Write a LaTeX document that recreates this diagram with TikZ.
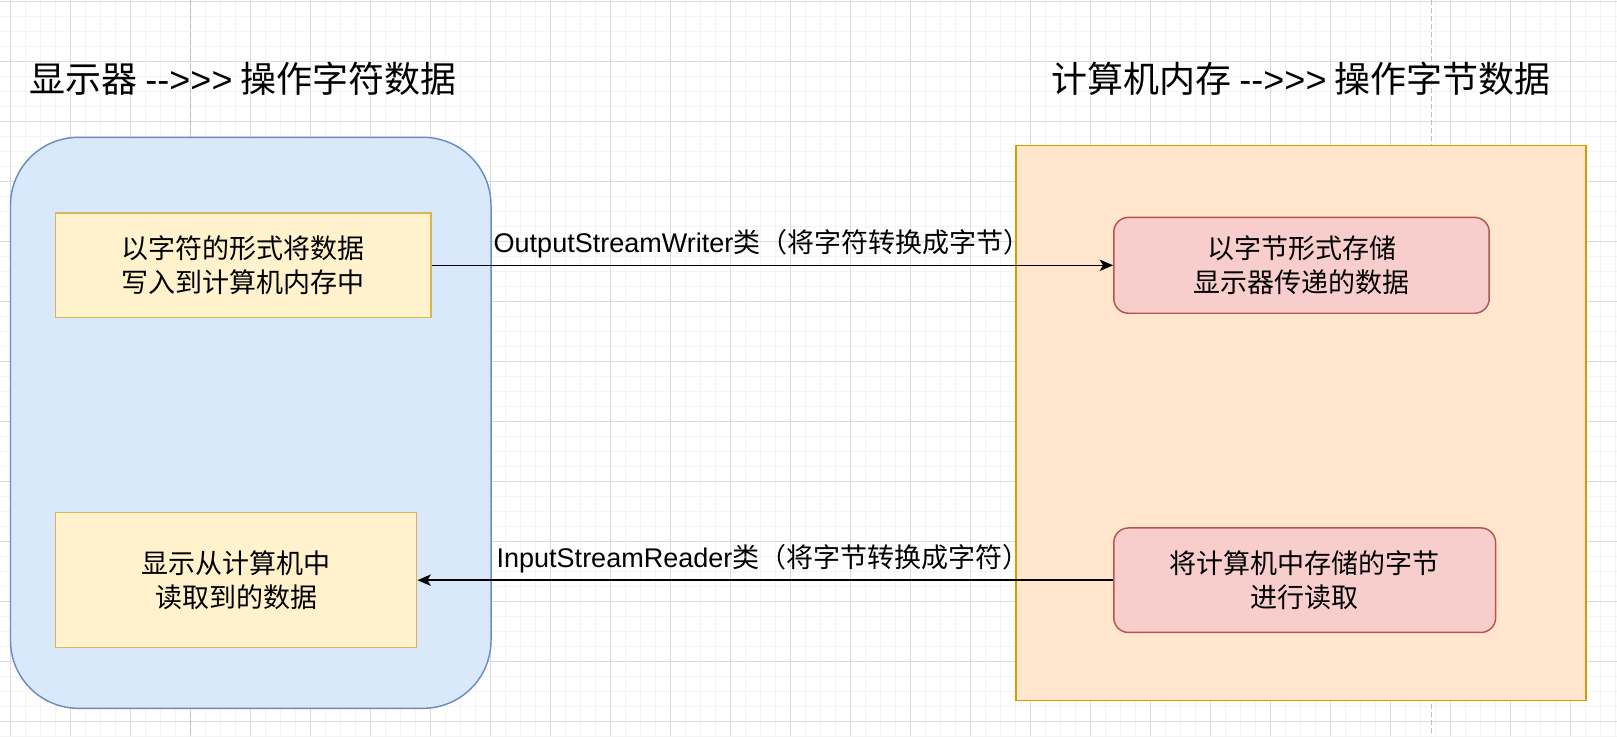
\documentclass[tikz,border=0pt]{standalone}
\usepackage{fontspec}
\setmainfont{Noto Sans CJK SC}
\newfontfamily\latinfont{Liberation Sans}
\usetikzlibrary{arrows.meta}

\definecolor{gridminor}{HTML}{F4F4F4}
\definecolor{gridmajor}{HTML}{DBDBDB}
\definecolor{pageline}{HTML}{BDBDBD}
\definecolor{bluefill}{HTML}{DAE8FC}
\definecolor{bluedraw}{HTML}{6C8EBF}
\definecolor{yellowfill}{HTML}{FFF2CC}
\definecolor{yellowdraw}{HTML}{D6B656}
\definecolor{orangefill}{HTML}{FFE6CC}
\definecolor{orangedraw}{HTML}{D79B00}
\definecolor{redfill}{HTML}{F8CECC}
\definecolor{reddraw}{HTML}{B85450}

\begin{document}
\begin{tikzpicture}[x=0.75pt,y=-0.75pt,
  boxtext/.style={font=\fontsize{20.25}{25.5}\selectfont,align=center,inner sep=0pt,line width=1.1pt},
  container/.style={boxtext,fill=bluefill,draw=bluedraw,rounded corners=51pt},
  memory/.style={boxtext,fill=orangefill,draw=orangedraw},
  charbox/.style={boxtext,fill=yellowfill,draw=yellowdraw},
  bytebox/.style={boxtext,fill=redfill,draw=reddraw,rounded corners=11pt},
  heading/.style={font=\fontsize{27}{32}\selectfont,inner sep=0pt},
  flowlabel/.style={font=\fontsize{20.25}{25.5}\selectfont,inner sep=0pt},
  flow/.style={line width=1.2pt,-{Stealth[length=10pt,width=8.5pt,inset=2.5pt]}}]
  \useasboundingbox (0,0) rectangle (1617,736);
  \fill[white] (0,0) rectangle (1617,736);
  % background grid of the canvas
  \begin{scope}
    \clip (0,0) rectangle (1617,736);
    \foreach \x in {10,25,...,1615} \draw[gridminor,line width=0.75pt] (\x,0) -- (\x,736);
    \foreach \y in {1,16,...,736} \draw[gridminor,line width=0.75pt] (0,\y) -- (1617,\y);
    \foreach \x in {10,70,...,1610} \draw[gridmajor,line width=0.75pt] (\x,0) -- (\x,736);
    \foreach \y in {1,61,...,736} \draw[gridmajor,line width=0.75pt] (0,\y) -- (1617,\y);
    \draw[pageline,line width=1.1pt,dash pattern=on 3.75pt off 2.25pt] (190.5,0) -- (190.5,736);
    \draw[pageline,line width=1.1pt,dash pattern=on 3.75pt off 2.25pt] (1431.7,0) -- (1431.7,736);
  \end{scope}
  % headings
  \node[heading] (headleft) at (243,79) {显示器 {\latinfont -{}->>>} 操作字符数据};
  \node[heading] (headright) at (1301,79) {计算机内存 {\latinfont -{}->>>} 操作字节数据};
  % the two sides
  \node[container,minimum width=360.4pt,minimum height=428.25pt] (screen) at (250.75,422.8) {};
  \node[memory,minimum width=427.65pt,minimum height=416.3pt] (memory) at (1300.9,422.95) {};
  % character boxes
  \node[charbox,minimum width=281.5pt,minimum height=78.5pt] (writechars) at (243.35,265.3)
    {以字符的形式将数据\\写入到计算机内存中};
  \node[charbox,minimum width=270.75pt,minimum height=101.25pt] (showchars) at (236.2,580.2)
    {显示从计算机中\\读取到的数据};
  % byte boxes
  \node[bytebox,minimum width=281.55pt,minimum height=71.9pt] (storebytes) at (1301.5,265.3)
    {以字节形式存储\\显示器传递的数据};
  \node[bytebox,minimum width=286.35pt,minimum height=78.4pt] (readbytes) at (1304.7,580.2)
    {将计算机中存储的字节\\进行读取};
  % conversions
  \draw[flow] (writechars.east) -- (writechars.east -| storebytes.west);
  \node[flowlabel] (writerlabel) at (762,243.5) {{\latinfont OutputStreamWriter}类（将字符转换成字节）};
  \draw[flow] (readbytes.west) -- (readbytes.west -| showchars.east);
  \node[flowlabel] (readerlabel) at (763,559) {{\latinfont InputStreamReader}类（将字节转换成字符）};
\end{tikzpicture}
\end{document}
